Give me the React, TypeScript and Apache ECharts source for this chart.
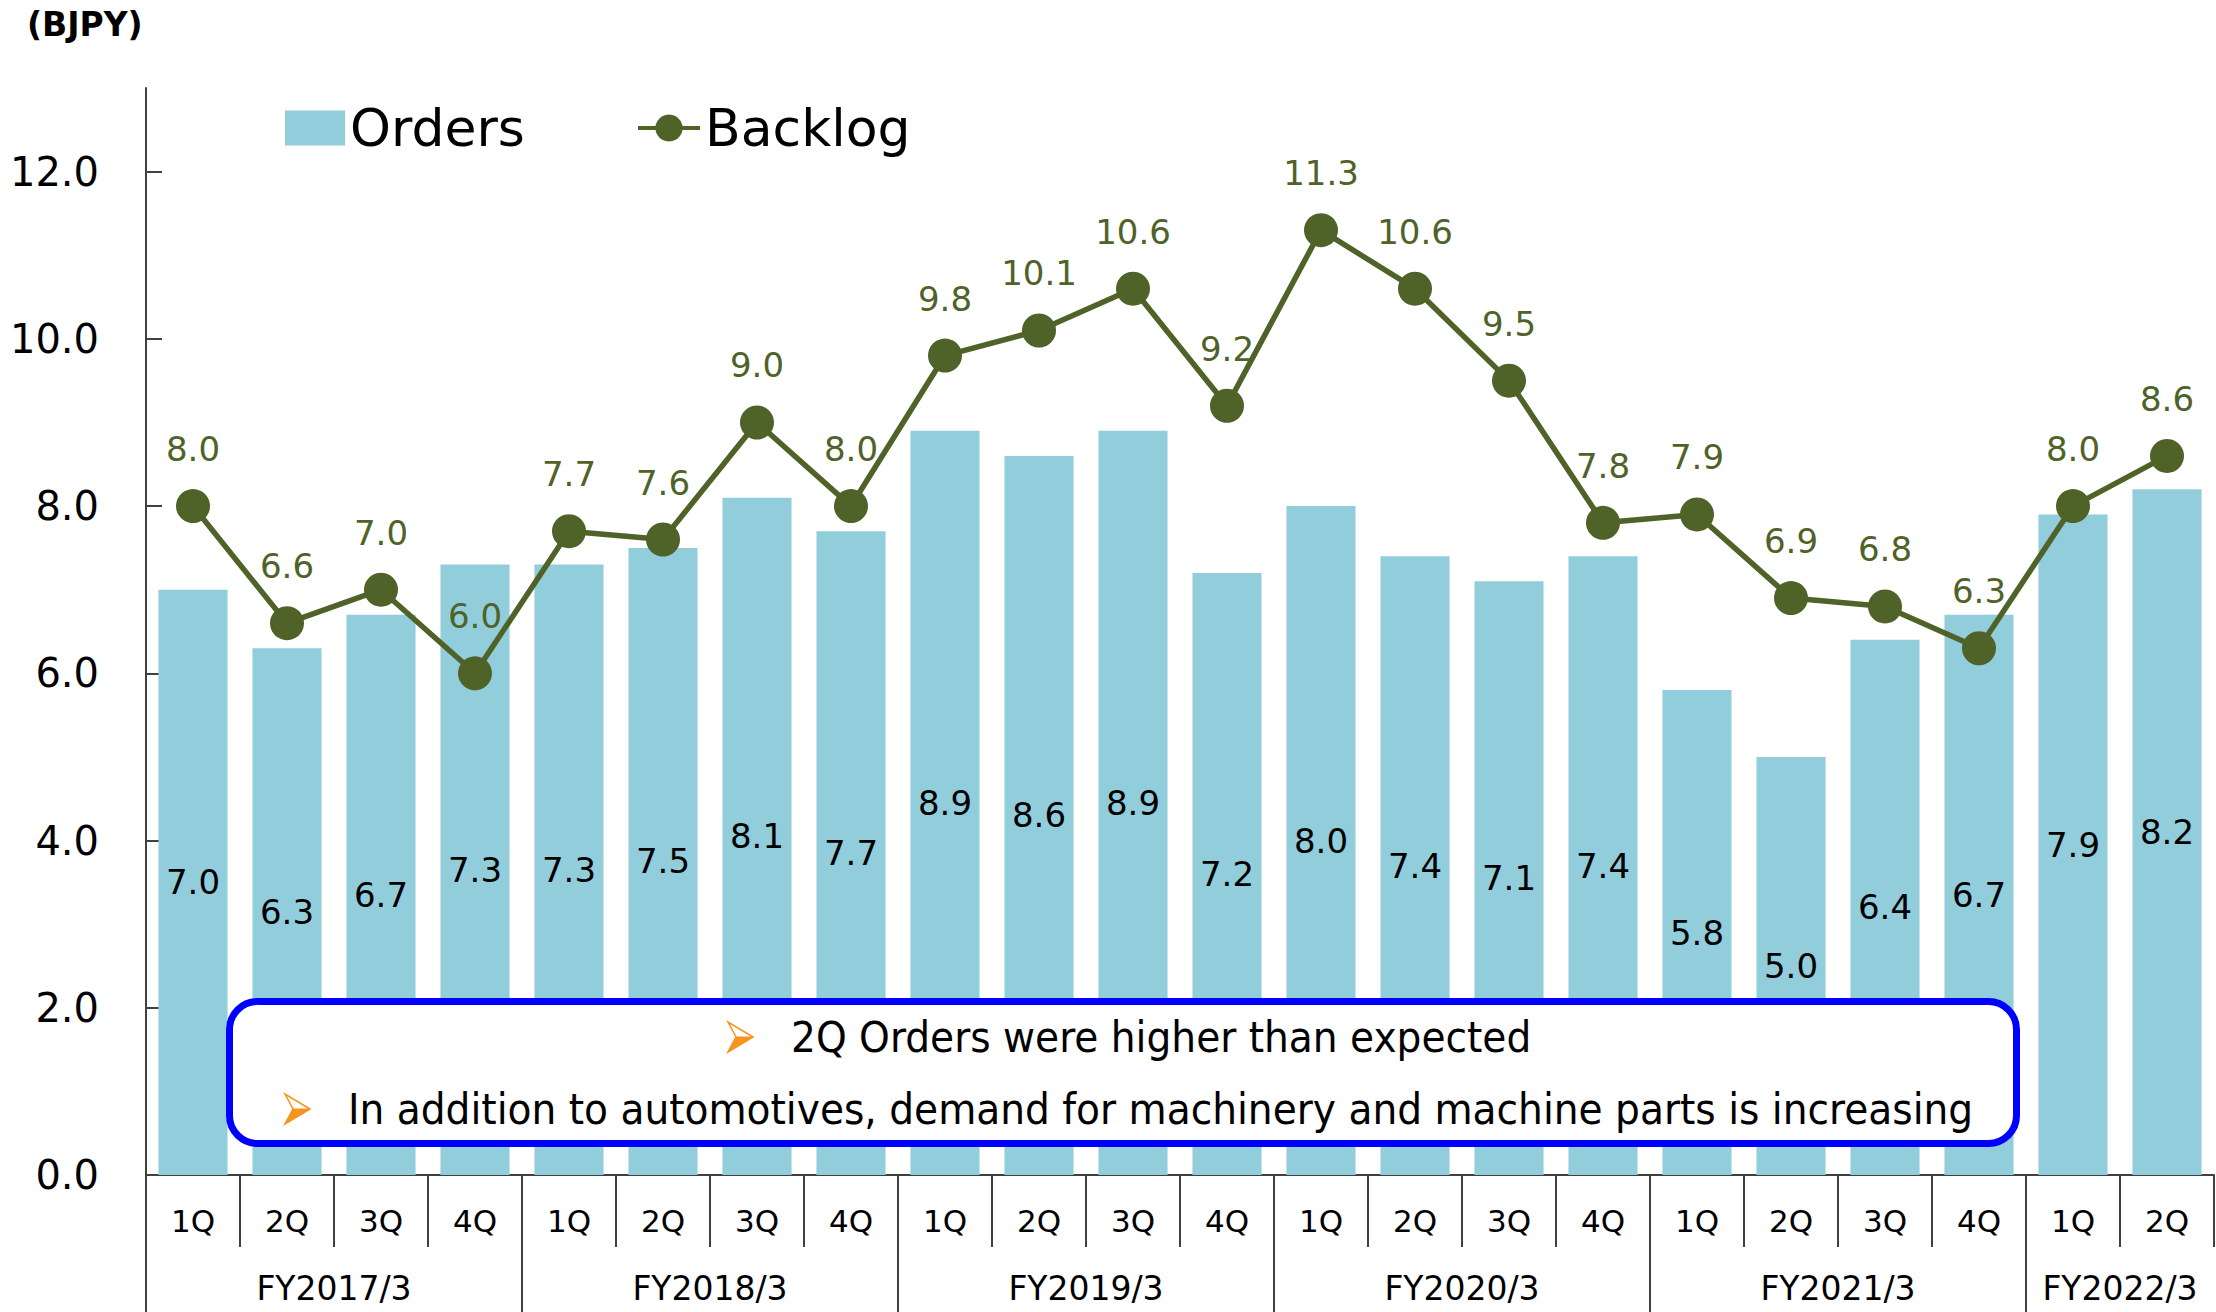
import React, { useEffect, useRef } from 'react';
import * as echarts from 'echarts';

const quarters = [
  '1Q', '2Q', '3Q', '4Q',
  '1Q', '2Q', '3Q', '4Q',
  '1Q', '2Q', '3Q', '4Q',
  '1Q', '2Q', '3Q', '4Q',
  '1Q', '2Q', '3Q', '4Q',
  '1Q', '2Q',
];
const fiscalYears = ['FY2017/3', 'FY2018/3', 'FY2019/3', 'FY2020/3', 'FY2021/3', 'FY2022/3'];
const quartersPerYear = [4, 4, 4, 4, 4, 2];
const orders = [7.0, 6.3, 6.7, 7.3, 7.3, 7.5, 8.1, 7.7, 8.9, 8.6, 8.9, 7.2, 8.0, 7.4, 7.1, 7.4, 5.8, 5.0, 6.4, 6.7, 7.9, 8.2];
const backlog = [8.0, 6.6, 7.0, 6.0, 7.7, 7.6, 9.0, 8.0, 9.8, 10.1, 10.6, 9.2, 11.3, 10.6, 9.5, 7.8, 7.9, 6.9, 6.8, 6.3, 8.0, 8.6];
const yTicks = [0, 2, 4, 6, 8, 10, 12];
const unitLabel = '(BJPY)';
const notes = [
  '2Q Orders were higher than expected',
  'In addition to automotives, demand for machinery and machine parts is increasing',
];

const FONT = '"DejaVu Sans", Verdana, sans-serif';
const NOTE_FONT = '"DejaVu Sans Condensed", "Liberation Sans Narrow", "Liberation Sans", sans-serif';
const BAR_COLOR = '#92CDDC';
const LINE_COLOR = '#4F6228';
const AXIS_COLOR = '#404040';
const ARROW_COLOR = '#F7941D';

function arrowHead(x: number, y: number) {
  // x: left edge, y: vertical centre
  return [
    {
      type: 'polygon',
      z: 101,
      shape: { points: [[x + 25, y], [x, y - 15], [x + 8, y], [x, y + 15]] },
      style: { fill: '#FFFFFF', stroke: ARROW_COLOR, lineWidth: 1.5 },
    },
    {
      type: 'polygon',
      z: 102,
      shape: { points: [[x + 25, y], [x + 8, y], [x, y + 15]] },
      style: { fill: ARROW_COLOR, stroke: ARROW_COLOR, lineWidth: 1 },
    },
  ];
}

export default function App() {
  const ref = useRef<HTMLDivElement>(null);

  useEffect(() => {
    if (!ref.current) return;
    const chart = echarts.init(ref.current, undefined, { renderer: 'svg' });

    const boundaries: number[] = [];
    const centers: number[] = [];
    let acc = 0;
    quartersPerYear.forEach((n) => {
      boundaries.push(acc);
      centers.push(acc + n / 2);
      acc += n;
    });

    const option: any = {
      animation: false,
      backgroundColor: '#ffffff',
      textStyle: { fontFamily: FONT },
      title: {
        text: unitLabel,
        left: 27,
        top: 8,
        padding: 0,
        textStyle: { fontFamily: FONT, fontSize: 33, fontWeight: 'bold', color: '#000' },
      },
      legend: [
        {
          data: [{ name: 'Orders', icon: 'rect' }],
          left: 285,
          top: 102,
          padding: 0,
          itemWidth: 60,
          itemHeight: 35,
          textStyle: { fontFamily: FONT, fontSize: 52, color: '#000', padding: [0, 0, 10, 0] },
          selectedMode: false,
        },
        {
          data: ['Backlog'],
          left: 636,
          top: 102,
          padding: 0,
          itemWidth: 62,
          itemHeight: 34,
          lineStyle: { width: 4 },
          textStyle: { fontFamily: FONT, fontSize: 52, color: '#000', padding: [0, 0, 10, 0] },
          selectedMode: false,
        },
      ],
      grid: {
        left: 146,
        right: 2,
        top: 88,
        bottom: 137,
        containLabel: false,
        outerBoundsMode: 'none',
      },
      xAxis: [
        {
          type: 'category',
          data: quarters,
          position: 'bottom',
          boundaryGap: true,
          axisLine: { show: true, lineStyle: { color: AXIS_COLOR, width: 2 } },
          axisTick: { show: true, interval: 0, length: 72, lineStyle: { color: AXIS_COLOR, width: 2 } },
          axisLabel: { interval: 0, margin: 30, fontSize: 31, color: '#000', fontFamily: FONT },
          splitLine: { show: false },
        },
        {
          type: 'value',
          min: 0,
          max: quarters.length,
          position: 'bottom',
          axisLine: { show: false },
          axisTick: {
            show: true,
            length: 140,
            customValues: boundaries,
            lineStyle: { color: AXIS_COLOR, width: 2 },
          },
          axisLabel: {
            show: true,
            margin: 97,
            fontSize: 33,
            color: '#000',
            fontFamily: FONT,
            customValues: centers,
            formatter: (v: number) => {
              const i = centers.indexOf(v);
              return i >= 0 ? fiscalYears[i] : '';
            },
          },
          splitLine: { show: false },
        },
      ],
      yAxis: {
        type: 'value',
        min: 0,
        max: 13,
        interval: 2,
        axisLine: { show: true, lineStyle: { color: AXIS_COLOR, width: 2 } },
        axisTick: {
          show: true,
          inside: true,
          length: 16,
          customValues: yTicks,
          lineStyle: { color: AXIS_COLOR, width: 2 },
        },
        axisLabel: {
          margin: 47,
          fontSize: 40,
          color: '#000',
          fontFamily: FONT,
          customValues: yTicks,
          formatter: (v: number) => (v > 12 ? '' : v.toFixed(1)),
        },
        splitLine: { show: false },
      },
      series: [
        {
          name: 'Orders',
          type: 'bar',
          data: orders,
          xAxisIndex: 0,
          barCategoryGap: '26.5%',
          itemStyle: { color: BAR_COLOR },
          label: {
            show: true,
            position: 'inside',
            color: '#000',
            fontSize: 34,
            fontFamily: FONT,
            formatter: (p: any) => Number(p.value).toFixed(1),
          },
          z: 2,
        },
        {
          name: 'Backlog',
          type: 'line',
          data: backlog,
          xAxisIndex: 0,
          symbol: 'circle',
          symbolSize: 34,
          lineStyle: { color: LINE_COLOR, width: 5.5 },
          itemStyle: { color: LINE_COLOR },
          label: {
            show: true,
            position: 'top',
            distance: 23,
            color: LINE_COLOR,
            fontSize: 34,
            fontFamily: FONT,
            formatter: (p: any) => Number(p.value).toFixed(1),
          },
          z: 3,
        },
      ],
      graphic: [
        {
          type: 'rect',
          z: 100,
          shape: { x: 229.5, y: 1001.5, width: 1787, height: 142, r: 28 },
          style: { fill: '#ffffff', stroke: '#0000FF', lineWidth: 7 },
        },
        ...arrowHead(728, 1037),
        {
          type: 'text',
          z: 101,
          x: 791,
          y: 1037,
          style: { text: notes[0], fill: '#000', font: `43.5px ${NOTE_FONT}`, verticalAlign: 'middle' },
        },
        ...arrowHead(285, 1109),
        {
          type: 'text',
          z: 101,
          x: 348,
          y: 1109,
          style: { text: notes[1], fill: '#000', font: `43.5px ${NOTE_FONT}`, verticalAlign: 'middle' },
        },
      ],
    };

    chart.setOption(option);
    return () => chart.dispose();
  }, []);

  return (
    <div
      ref={ref}
      style={{ position: 'fixed', left: 0, top: 0, width: 2216, height: 1312, background: '#fff' }}
    />
  );
}
